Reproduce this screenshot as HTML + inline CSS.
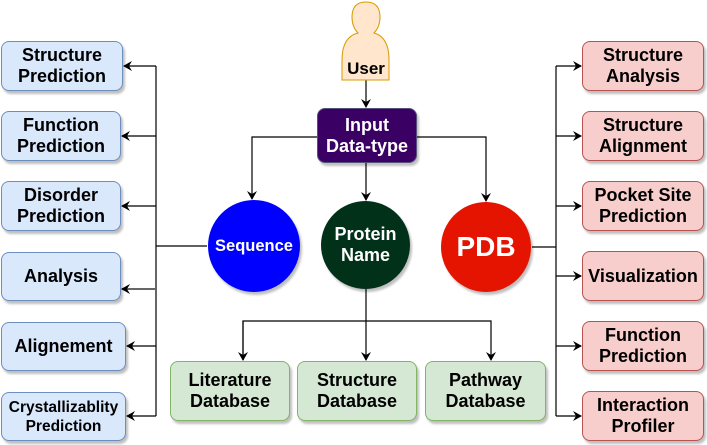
<!DOCTYPE html><html><head><style>
body{margin:0;background:#fff;width:707px;height:445px;overflow:hidden;position:relative;font-family:"Liberation Sans",Arial,sans-serif;font-weight:bold}
.b{position:absolute;box-sizing:border-box;border-radius:8px;display:flex;align-items:center;justify-content:center;text-align:center;font-size:18px;line-height:21px;box-shadow:2px 3px 2px rgba(0,0,0,.25);color:#000;white-space:nowrap}
.l{background:#dae8fc;border:1px solid #6c8ebf}
.r{background:#f8cecc;border:1px solid #b85450}
.g{background:#d5e8d4;border:1px solid #82b366}
.c{position:absolute;border-radius:50%;display:flex;align-items:center;justify-content:center;text-align:center;color:#fff;box-shadow:2px 3px 2px rgba(0,0,0,.25)}
</style></head><body>
<svg width="707" height="445" style="position:absolute;left:0;top:0">
<defs><marker id="a" markerWidth="10" markerHeight="10" refX="8" refY="5" orient="auto" markerUnits="userSpaceOnUse"><path d="M0,0 L9,5 L0,10 L3,5z" fill="#000"/></marker></defs>
<g stroke="#000" stroke-width="1.2" fill="none">
<path d="M156,66V416M156,246H207"/>
<path d="M156,66H124" marker-end="url(#a)"/><path d="M156,136H122" marker-end="url(#a)"/><path d="M156,206H122" marker-end="url(#a)"/><path d="M156,289H122" stroke="#666" stroke-width="2" marker-end="url(#a)"/><path d="M156,346H127" marker-end="url(#a)"/><path d="M156,416H127" marker-end="url(#a)"/>
<path d="M556,66V416M532,247H556"/>
<path d="M556,66H581" marker-end="url(#a)"/><path d="M556,136H581" marker-end="url(#a)"/><path d="M556,206H581" marker-end="url(#a)"/><path d="M556,276H581" marker-end="url(#a)"/><path d="M556,346H581" marker-end="url(#a)"/><path d="M556,416H581" marker-end="url(#a)"/>
<path d="M366,80V107" marker-end="url(#a)"/>
<path d="M317,137H252V199" marker-end="url(#a)"/>
<path d="M417,137H486V201" marker-end="url(#a)"/>
<path d="M366,163V200" marker-end="url(#a)"/>
<path d="M366,289V360" marker-end="url(#a)"/>
<path d="M243,360V321H491V360" marker-end="url(#a)"/>
<path d="M243,321V360" marker-end="url(#a)"/>
</g>
<path d="M342,80V60Q342,37 358,33Q352,27 352,17Q352,2 366,2Q380,2 380,17Q380,27 374,33Q389,37 389,60V80Z" fill="#ffe6cc" stroke="#d79b00"/>
<text x="366" y="74" text-anchor="middle" font-size="17" font-weight="bold" fill="#000" font-family="Liberation Sans,sans-serif">User</text>
</svg>
<div class="b" style="left:317px;top:108px;width:100px;height:55px;background:#3b0064;border:1px solid #56517e;color:#fff">Input<br>Data-type</div>
<div class="c" style="left:208px;top:200px;width:92px;height:92px;background:#0000ff;font-size:16.5px">Sequence</div>
<div class="c" style="left:321px;top:201px;width:89px;height:88px;background:#023119;font-size:18px;line-height:21px">Protein<br>Name</div>
<div class="c" style="left:441px;top:202px;width:90px;height:90px;background:#e51400;font-size:28px">PDB</div>
<div class="b l" style="left:1px;top:41px;width:122px;height:50px">Structure<br>Prediction</div>
<div class="b l" style="left:1px;top:111px;width:120px;height:50px">Function<br>Prediction</div>
<div class="b l" style="left:1px;top:181px;width:120px;height:50px">Disorder<br>Prediction</div>
<div class="b l" style="left:1px;top:252px;width:120px;height:49px">Analysis</div>
<div class="b l" style="left:1px;top:322px;width:125px;height:49px">Alignement</div>
<div class="b l" style="left:1px;top:392px;width:125px;height:49px;font-size:15.5px;line-height:19px">Crystallizablity<br>Prediction</div>
<div class="b r" style="left:582px;top:41px;width:122px;height:50px">Structure<br>Analysis</div>
<div class="b r" style="left:582px;top:111px;width:122px;height:50px">Structure<br>Alignment</div>
<div class="b r" style="left:582px;top:181px;width:122px;height:50px">Pocket Site<br>Prediction</div>
<div class="b r" style="left:582px;top:251px;width:122px;height:50px">Visualization</div>
<div class="b r" style="left:582px;top:321px;width:122px;height:50px">Function<br>Prediction</div>
<div class="b r" style="left:582px;top:391px;width:122px;height:50px">Interaction<br>Profiler</div>
<div class="b g" style="left:170px;top:361px;width:120px;height:60px">Literature<br>Database</div>
<div class="b g" style="left:297px;top:361px;width:120px;height:60px">Structure<br>Database</div>
<div class="b g" style="left:425px;top:361px;width:121px;height:60px">Pathway<br>Database</div>
</body></html>
